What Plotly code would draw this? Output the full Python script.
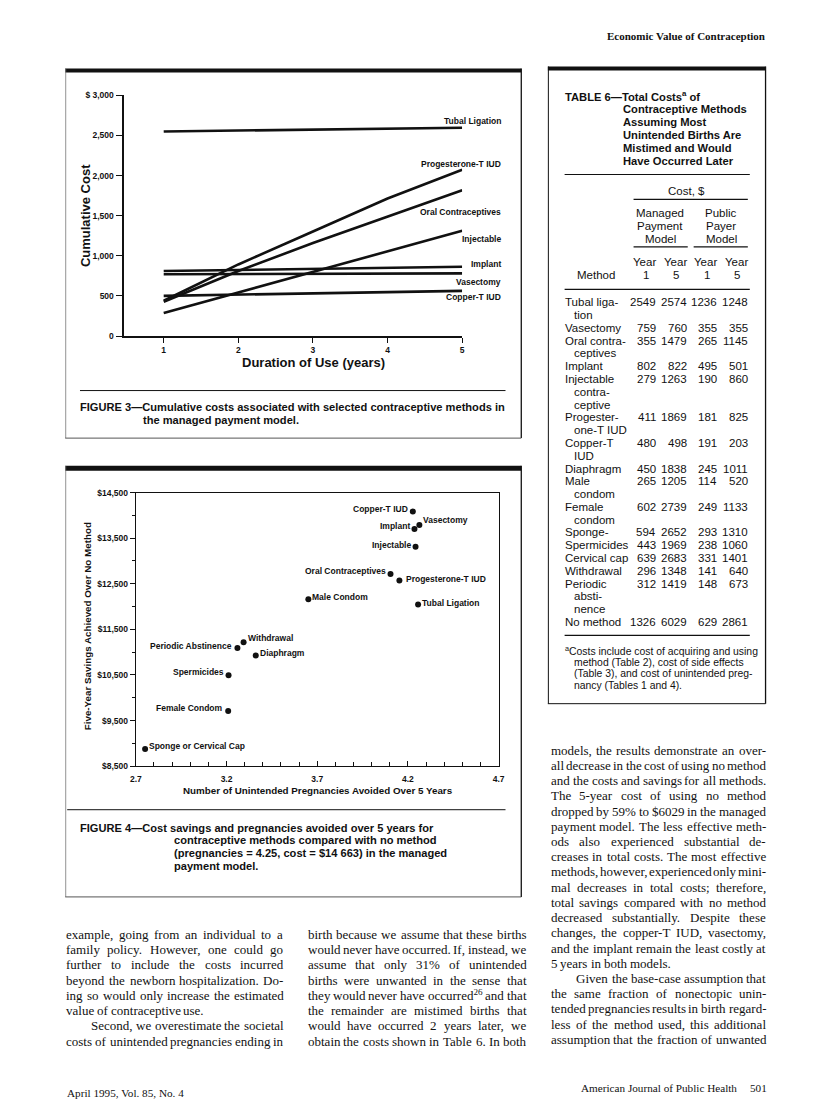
import plotly.graph_objects as go

# page is 816x1120; the browser adds an 8px body margin, so the figure is 800x1104
PAGE_OFF = 8
W, H = 800, 1104
SANS = "Liberation Sans, Arial, Helvetica, sans-serif"
SERIF = "Liberation Serif, Times New Roman, serif"
INK = "#111111"

# ---------- Figure 3: cumulative cost by duration of use ----------
years = [1, 2, 3, 4, 5]
tubal = [2549, 2560, 2572, 2584, 2595]
prog_iud = [440, 892, 1303, 1714, 2071]
oral = [427, 810, 1159, 1488, 1817]
injectable = [288, 543, 797, 1056, 1311]
implant = [810, 825, 838, 851, 863]
vasectomy = [769, 772, 775, 778, 781]
copper_iud = [501, 517, 533, 548, 563]
fig3_series = [tubal, prog_iud, oral, injectable, implant, vasectomy, copper_iud]
fig3_names = ["Tubal Ligation", "Progesterone-T IUD", "Oral Contraceptives",
              "Injectable", "Implant", "Vasectomy", "Copper-T IUD"]
fig3_yticks = [0, 500, 1000, 1500, 2000, 2500, 3000]
fig3_yticktext = ["0", "500", "1,000", "1,500", "2,000", "2,500", "$ 3,000"]

# ---------- Figure 4: savings vs pregnancies avoided ----------
fig4_names = ["Copper-T IUD", "Vasectomy", "Implant", "Injectable",
              "Oral Contraceptives", "Progesterone-T IUD", "Male Condom",
              "Tubal Ligation", "Withdrawal", "Periodic Abstinence", "Diaphragm",
              "Spermicides", "Female Condom", "Sponge or Cervical Cap"]
preg_avoided = [4.227, 4.263, 4.236, 4.242, 4.104, 4.153, 3.651,
                4.256, 3.294, 3.260, 3.361, 3.211, 3.209, 2.751]
savings = [14087, 13790, 13703, 13312, 12717, 12572, 12159,
           12043, 11217, 11094, 10928, 10493, 9710, 8877]
fig4_xticks = [2.7, 3.2, 3.7, 4.2, 4.7]
fig4_yticks = [8500, 9500, 10500, 11500, 12500, 13500, 14500]
fig4_yticktext = ["$8,500", "$9,500", "$10,500", "$11,500", "$12,500", "$13,500", "$14,500"]

# ---------- Table 6 ----------
table_methods = [["Tubal liga-", "tion"], ["Vasectomy"], ["Oral contra-", "ceptives"],
                 ["Implant"], ["Injectable", "contra-", "ceptive"],
                 ["Progester-", "one-T IUD"], ["Copper-T", "IUD"], ["Diaphragm"],
                 ["Male", "condom"], ["Female", "condom"], ["Sponge-"], ["Spermicides"],
                 ["Cervical cap"], ["Withdrawal"], ["Periodic", "absti-", "nence"],
                 ["No method"]]
managed_y1 = [2549, 759, 355, 802, 279, 411, 480, 450, 265, 602, 594, 443, 639, 296, 312, 1326]
managed_y5 = [2574, 760, 1479, 822, 1263, 1869, 498, 1838, 1205, 2739, 2652, 1969, 2683, 1348, 1419, 6029]
public_y1 = [1236, 355, 265, 495, 190, 181, 191, 245, 114, 249, 293, 238, 331, 141, 148, 629]
public_y5 = [1248, 355, 1145, 501, 860, 825, 203, 1011, 520, 1133, 1310, 1060, 1401, 640, 673, 2861]

table_title = ["TABLE 6\u2014Total Costs<sup>a</sup> of", "Contraceptive Methods", "Assuming Most",
               "Unintended Births Are", "Mistimed and Would", "Have Occurred Later"]
table_note = ["<sup>a</sup>Costs include cost of acquiring and using",
              "method (Table 2), cost of side effects",
              "(Table 3), and cost of unintended preg-",
              "nancy (Tables 1 and 4)."]

# ---------- body text ----------
col1 = ["example, going from an individual to a",
        "family policy. However, one could go",
        "further to include the costs incurred",
        "beyond the newborn hospitalization. Do-",
        "ing so would only increase the estimated",
        "value of contraceptive use.",
        "Second, we overestimate the societal",
        "costs of unintended pregnancies ending in"]
col2 = ["birth because we assume that these births",
        "would never have occurred. If, instead, we",
        "assume that only 31% of unintended",
        "births were unwanted in the sense that",
        "they would never have occurred<sup>26</sup> and that",
        "the remainder are mistimed births that",
        "would have occurred 2 years later, we",
        "obtain the costs shown in Table 6. In both"]
col3 = ["models, the results demonstrate an over-",
        "all decrease in the cost of using no method",
        "and the costs and savings for all methods.",
        "The 5-year cost of using no method",
        "dropped by 59% to $6029 in the managed",
        "payment model. The less effective meth-",
        "ods also experienced substantial de-",
        "creases in total costs. The most effective",
        "methods, however, experienced only mini-",
        "mal decreases in total costs; therefore,",
        "total savings compared with no method",
        "decreased substantially. Despite these",
        "changes, the copper-T IUD, vasectomy,",
        "and the implant remain the least costly at",
        "5 years in both models.",
        "Given the base-case assumption that",
        "the same fraction of nonectopic unin-",
        "tended pregnancies results in birth regard-",
        "less of the method used, this additional",
        "assumption that the fraction of unwanted"]

# Times advance widths (per 1000 em), used to justify the body text
TIMES = {" ": 250, ",": 250, ".": 250, "-": 333, ";": 278, ":": 278, "%": 833, "$": 500,
         "(": 333, ")": 333, "a": 444, "b": 500, "c": 444, "d": 500, "e": 444, "f": 333,
         "g": 500, "h": 500, "i": 278, "j": 278, "k": 500, "l": 278, "m": 778, "n": 500,
         "o": 500, "p": 500, "q": 500, "r": 333, "s": 389, "t": 278, "u": 500, "v": 500,
         "w": 722, "x": 500, "y": 500, "z": 444, "D": 722, "G": 722, "H": 722, "I": 333,
         "T": 611, "U": 722, "S": 556}


def word_width(w, size):
    sup = False
    total = 0.0
    i = 0
    while i < len(w):
        if w.startswith("<sup>", i):
            sup = True
            i += 5
            continue
        if w.startswith("</sup>", i):
            sup = False
            i += 6
            continue
        ch = w[i]
        cw = 500 if ch.isdigit() else TIMES.get(ch, 500)
        total += cw * (0.7 if sup else 1.0)
        i += 1
    return total * size / 1000


def px(x):
    return (x - PAGE_OFF) / W


def py(y):
    return 1 - (y - PAGE_OFF) / H


anns = []
shapes = []


def text(x, y, s, size, anchor="left", family=SANS, bold=False, angle=0):
    if bold:
        s = "<b>" + s + "</b>"
    anns.append(dict(x=px(x), y=py(y), xref="paper", yref="paper", text=s,
                     showarrow=False, xanchor=anchor, yanchor="middle",
                     textangle=angle, borderpad=0,
                     font=dict(size=size, family=family, color=INK)))


def justified(line, x0, x1, y, size, last=False):
    words = line.split(" ")
    widths = [word_width(w, size) for w in words]
    gap = 0.25 * size
    if not last and len(words) > 1:
        gap = (x1 - x0 - sum(widths)) / (len(words) - 1)
    x = x0
    for w, wd in zip(words, widths):
        text(x, y, w, size, family=SERIF)
        x += wd + gap


def hline(x0, x1, y, w=1.0, color=INK):
    shapes.append(dict(type="line", xref="paper", yref="paper",
                       x0=px(x0), x1=px(x1), y0=py(y), y1=py(y),
                       line=dict(color=color, width=w)))


def vline(x, y0, y1, w=1.0, color=INK):
    shapes.append(dict(type="line", xref="paper", yref="paper",
                       x0=px(x), x1=px(x), y0=py(y0), y1=py(y1),
                       line=dict(color=color, width=w)))


def bar(x0, x1, y0, y1):
    shapes.append(dict(type="rect", xref="paper", yref="paper",
                       x0=px(x0), x1=px(x1), y0=py(y0), y1=py(y1),
                       fillcolor=INK, line=dict(width=0)))


fig = go.Figure()

# Figure 3 lines
for vals in fig3_series:
    fig.add_trace(go.Scatter(x=years, y=vals, mode="lines", xaxis="x", yaxis="y",
                             line=dict(color=INK, width=2.6), hoverinfo="skip"))

# Figure 4 points
fig.add_trace(go.Scatter(x=preg_avoided, y=savings, mode="markers", xaxis="x2", yaxis="y2",
                         marker=dict(color=INK, size=6), hoverinfo="skip"))

# labels of figure 4 points: (anchor, xshift, yshift)
fig4_label_pos = [("right", -4, 2), ("left", 3, 5), ("right", -3, 3), ("right", -4, 2),
                  ("right", -4, 3), ("left", 6, 1), ("left", 3, 2), ("left", 3, 2),
                  ("left", 3, 4), ("right", -4, 2), ("left", 3, 2), ("right", -4, 3),
                  ("right", -4, 3), ("left", 3, 3)]
for name, xv, yv, (anc, dx, dy) in zip(fig4_names, preg_avoided, savings, fig4_label_pos):
    anns.append(dict(x=xv, y=yv, xref="x2", yref="y2", text="<b>" + name + "</b>",
                     showarrow=False, xanchor=anc, yanchor="middle", xshift=dx, yshift=dy,
                     borderpad=0, font=dict(size=8.5, family=SANS, color=INK)))

# ---- Figure 3 frame, titles, labels ----
bar(60, 523, 64, 68)
vline(523, 64, 437, 1.3)
vline(60.5, 64, 437, 0.8, "#777")
hline(60, 523, 437, 1.0, "#555")
fig3_label_y = [117, 160, 209, 236, 261, 279, 295]
for name, ly in zip(fig3_names, fig3_label_y):
    text(503, ly, name, 8.5, anchor="right", bold=True)
text(80, 212, "Cumulative Cost", 13, anchor="center", bold=True, angle=-90)
text(312, 361, "Duration of Use (years)", 13, anchor="center", bold=True)
hline(75, 507, 389, 1.0)
text(74, 406, "FIGURE 3\u2014Cumulative costs associated with selected contraceptive methods in", 11.1, bold=True)
text(138, 419, "the managed payment model.", 11.1, bold=True)

# ---- Figure 4 frame, titles, caption ----
bar(60, 523, 465, 470)
vline(523, 465, 900, 1.3)
vline(60.5, 465, 900, 0.8, "#777")
hline(60, 523, 900, 1.0, "#555")
text(83, 627, "Five-Year Savings Achieved Over No Method", 9.8, anchor="center", bold=True, angle=-90)
text(317, 793, "Number of Unintended Pregnancies Avoided Over 5 Years", 9.8, anchor="center", bold=True)
hline(62, 507, 812, 1.0)
fig4_caption = ["FIGURE 4\u2014Cost savings and pregnancies avoided over 5 years for",
                "contraceptive methods compared with no method",
                "(pregnancies = 4.25, cost = $14 663) in the managed",
                "payment model."]
for i, line in enumerate(fig4_caption):
    text(74 if i == 0 else 169, 830 + i * 13, line, 11.1, bold=True)

# ---- Table 6 ----
bar(550, 771, 62, 66)
vline(550.5, 62, 705, 1.0)
vline(771, 62, 705, 1.3)
hline(550, 771, 705, 1.0)
for i, line in enumerate(table_title):
    text(566 if i == 0 else 625, 92 + i * 13, line, 11.2, bold=True)
hline(567, 755, 171, 1.2)
text(691, 188, "Cost, $", 11.5, anchor="center")
hline(637, 753, 196, 1.2)
for cx, words in [(664, ["Managed", "Payment", "Model"]), (726, ["Public", "Payer", "Model"])]:
    for i, wd in enumerate(words):
        text(cx, 210 + i * 13, wd, 11.5, anchor="center")
hline(637, 692, 244, 1.2)
hline(698, 753, 244, 1.2)
col_right = [661, 692, 723, 754]
for r, yr in zip(col_right, ["1", "5", "1", "5"]):
    text(r, 259, "Year", 11.5, anchor="right")
    text(r - 11.5, 272, yr, 11.5, anchor="center")
text(599, 272, "Method", 11.5, anchor="center")
hline(567, 755, 287, 1.2)

row = 0
step = 12.9
for lines, a, b, c, d in zip(table_methods, managed_y1, managed_y5, public_y1, public_y5):
    yrow = 300 + row * step
    for j, ln in enumerate(lines):
        text(566 if j == 0 else 576, yrow + j * step, ln, 11.5)
    for r, v in zip(col_right, [a, b, c, d]):
        text(r, yrow, str(v), 11.5, anchor="right")
    row += len(lines)
hline(567, 755, 636, 1.2)
for i, line in enumerate(table_note):
    text(566 if i == 0 else 576, 651 + i * 12, line, 10.4)

# ---- running head, body text, footer ----
text(771, 31, "Economic Value of Contraception", 11, anchor="right", family=SERIF, bold=True)
LEAD = 15.35
BODY = 13
for i, line in enumerate(col1):
    justified(line, 85 if i == 6 else 60, 280, 938 + i * LEAD, BODY, last=(i == 5))
for i, line in enumerate(col2):
    justified(line, 305, 527, 938 + i * LEAD, BODY)
for i, line in enumerate(col3):
    justified(line, 578 if i == 15 else 552, 770, 752 + i * LEAD, BODY, last=(i == 14))
text(61, 1098, "April 1995, Vol. 85, No. 4", 11.2, family=SERIF)
text(743, 1093, "American Journal of Public Health", 11.2, anchor="right", family=SERIF)
text(773, 1093, "501", 11.2, anchor="right", family=SERIF)

tickfont = dict(size=8.5, family=SANS, color=INK, weight="bold")
fig.update_layout(
    width=W, height=H,
    margin=dict(l=0, r=0, t=0, b=0),
    paper_bgcolor="white", plot_bgcolor="rgba(0,0,0,0)",
    showlegend=False,
    xaxis=dict(domain=[px(120), px(463)], range=[0.472, 5], anchor="y",
               tickvals=years, ticks="outside", ticklen=5, tickwidth=1.2,
               showline=True, linewidth=1.6, linecolor=INK, tickcolor=INK,
               showgrid=False, zeroline=False, tickfont=tickfont),
    yaxis=dict(domain=[py(334), py(91)], range=[0, 3000], anchor="x",
               tickvals=fig3_yticks, ticktext=fig3_yticktext,
               ticks="outside", ticklen=7, tickwidth=1.2,
               showline=True, linewidth=1.6, linecolor=INK, tickcolor=INK,
               showgrid=False, zeroline=False, tickfont=tickfont),
    xaxis2=dict(domain=[px(131.7), px(500)], range=[2.7, 4.7], anchor="y2",
                tickvals=fig4_xticks, ticks="inside", ticklen=5, tickwidth=1.2,
                minor=dict(tick0=2.7, dtick=0.1, ticks="inside", ticklen=4,
                           tickwidth=1.1, tickcolor=INK),
                ticklabelstandoff=4,
                showline=True, mirror=True, linewidth=1.4, linecolor=INK, tickcolor=INK,
                showgrid=False, zeroline=False, tickfont=tickfont),
    yaxis2=dict(domain=[py(768), py(492)], range=[8500, 14500], anchor="x2",
                tickvals=fig4_yticks, ticktext=fig4_yticktext,
                ticks="outside", ticklen=5, tickwidth=1.2,
                minor=dict(tick0=8500, dtick=500, ticks="outside", ticklen=3,
                           tickwidth=1.1, tickcolor=INK),
                showline=True, mirror=True, linewidth=1.4, linecolor=INK, tickcolor=INK,
                showgrid=False, zeroline=False, tickfont=tickfont),
    annotations=anns,
    shapes=shapes,
)

fig.write_html("out.html")
